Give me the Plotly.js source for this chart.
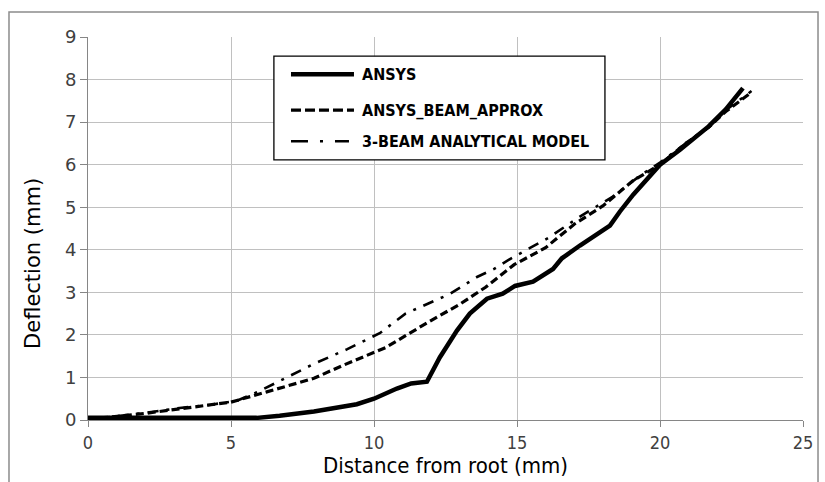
<!DOCTYPE html>
<html><head><meta charset="utf-8">
<script src="https://cdn.plot.ly/plotly-3.0.1.min.js"></script>
<style>html,body{margin:0;padding:0;background:#fff;}#chart{width:825px;height:482px;}</style>
</head><body><div id="chart"></div>
<script>
var seriesNames = ["ANSYS", "ANSYS_BEAM_APPROX", "3-BEAM ANALYTICAL MODEL"];
var ansysX = [0, 1, 2, 3, 4, 5, 5.9, 6.7, 7.9, 9.4, 10, 10.8, 11.3, 11.85, 12.3, 12.9, 13.35, 13.95, 14.5, 14.93, 15.56, 16.26, 16.57, 17.2, 17.9, 18.25, 18.6, 19.07, 20, 20.7, 21.7, 22.3, 22.9];
var ansysY = [0.05, 0.05, 0.05, 0.05, 0.05, 0.05, 0.05, 0.1, 0.2, 0.37, 0.5, 0.74, 0.86, 0.9, 1.47, 2.1, 2.5, 2.85, 2.97, 3.15, 3.25, 3.55, 3.8, 4.1, 4.4, 4.57, 4.9, 5.3, 6.0, 6.35, 6.9, 7.3, 7.8];
var beamX = [0, 0.8, 2.05, 3.2, 4.4, 5, 6.25, 7.9, 8.9, 10, 10.4, 11.9, 13, 13.9, 14.9, 16, 17, 18, 19.05, 20, 20.9, 21.7, 22.3, 23.1];
var beamY = [0.03, 0.07, 0.16, 0.26, 0.37, 0.42, 0.66, 0.98, 1.28, 1.58, 1.7, 2.3, 2.72, 3.12, 3.65, 4.05, 4.6, 5.03, 5.62, 6.0, 6.5, 6.88, 7.25, 7.65];
var modelX = [0, 0.8, 2, 3.2, 4.3, 5.2, 6.0, 6.7, 7.9, 9.05, 10.2, 11.1, 11.9, 12.65, 13.6, 14.2, 14.8, 16.1, 17.2, 18.35, 19.3, 20, 20.9, 21.7, 22.3, 23.2];
var modelY = [0.02, 0.07, 0.17, 0.28, 0.36, 0.45, 0.68, 0.92, 1.32, 1.66, 2.04, 2.5, 2.73, 2.96, 3.36, 3.55, 3.8, 4.28, 4.78, 5.25, 5.74, 6.05, 6.5, 6.88, 7.28, 7.73];
var xTicks = [0, 5, 10, 15, 20, 25];
var yTicks = [0, 1, 2, 3, 4, 5, 6, 7, 8, 9];

var styles = [
  {width: 4.5, dash: "solid"},
  {width: 3.2, dash: "8px,4px"},
  {width: 2.6, dash: "11px,8px,3px,8px"}
];
var xs = [ansysX, beamX, modelX], ys = [ansysY, beamY, modelY];
var traces = xs.map(function(x, i){
  return {x: x, y: ys[i], type: "scatter", mode: "lines", name: seriesNames[i],
    line: {color: "#000", width: styles[i].width, dash: styles[i].dash}, showlegend: false};
});

var shapes = [
  {type:"rect", xref:"paper", yref:"paper", x0:-0.1105, x1:1.021, y0:-0.2, y1:1.065, line:{color:"#8c8c8c", width:1.5}},
  {type:"rect", xref:"paper", yref:"paper", x0:0.260, x1:0.723, y0:0.679, y1:0.950, fillcolor:"#fff", line:{color:"#000", width:1.3}, layer:"above"}
];
var legY = [0.903, 0.809, 0.728];
var annotations = [];
for (var i = 0; i < 3; i++) {
  shapes.push({type:"line", xref:"paper", yref:"paper", x0:0.2839, x1:(i==2?0.3650:0.3720), y0:legY[i], y1:legY[i],
    line:{color:"#000", width: styles[i].width, dash: i==2 ? "17px,12px,3px,12px" : (i==1 ? "10px,4px" : "solid")}, layer:"above"});
  annotations.push({xref:"paper", yref:"paper", x:0.380, y:legY[i], xanchor:"left", yanchor:"middle", showarrow:false,
    text: seriesNames[i], font:{family:"DejaVu Sans Condensed", size:16, color:"#000", weight:"bold"}});
}
annotations.push({xref:"paper", yref:"paper", x:-0.077, y:0.41, xanchor:"center", yanchor:"middle", showarrow:false,
  textangle:-90, text:"Deflection (mm)", font:{family:"DejaVu Sans", size:21, color:"#000"}});

var layout = {
  width: 825, height: 482,
  margin: {l: 88, r: 22, t: 37, b: 62},
  paper_bgcolor: "#fff", plot_bgcolor: "#fff",
  showlegend: false,
  xaxis: {range: [0, 25], tickvals: xTicks, ticktext: xTicks.map(String),
    showgrid: true, gridcolor: "#c0c0c0", gridwidth: 1,
    showline: true, linecolor: "#868686", linewidth: 1, zeroline: false,
    ticks: "outside", ticklen: 6, tickcolor: "#868686",
    tickfont: {family: "DejaVu Sans Condensed", size: 18, color: "#404040"},
    title: {text: "Distance from root (mm)", standoff: 0, font: {family: "DejaVu Sans Condensed", size: 22, color: "#000"}}},
  yaxis: {range: [0, 9], tickvals: yTicks, ticktext: yTicks.map(String),
    showgrid: true, gridcolor: "#c0c0c0", gridwidth: 1,
    showline: true, linecolor: "#868686", linewidth: 1, zeroline: false,
    ticks: "outside", ticklen: 7, tickcolor: "#868686",
    tickfont: {family: "DejaVu Sans", size: 18, color: "#404040"}},
  shapes: shapes,
  annotations: annotations
};
Plotly.newPlot("chart", traces, layout, {displayModeBar: false, staticPlot: true});
</script></body></html>
